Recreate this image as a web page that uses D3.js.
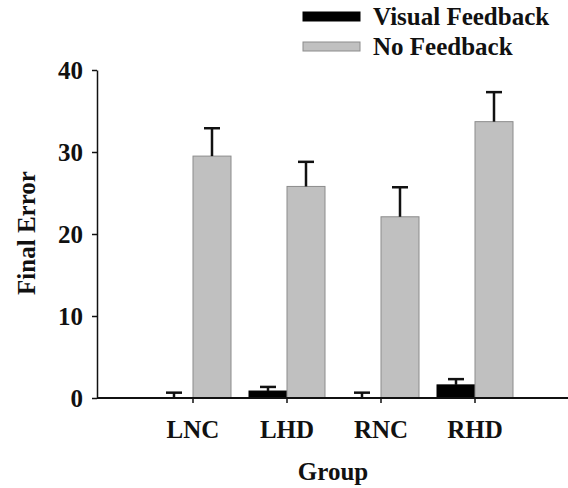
<!DOCTYPE html>
<html>
<head>
<meta charset="utf-8">
<script src="https://cdn.jsdelivr.net/npm/d3@7"></script>
<style>
    body { margin: 0; background: #fff; }
    svg text { font-family: "Liberation Serif", "Times New Roman", serif; font-weight: bold; fill: #111; }
</style>
</head>
<body>
<div id="chart"></div>
<script>
// data
const groups = ["LNC", "LHD", "RNC", "RHD"];
const seriesNames = ["Visual Feedback", "No Feedback"];
const visualFeedback = [0, 0.85, 0, 1.6];
const visualFeedbackErr = [0.65, 0.5, 0.65, 0.7];
const noFeedback = [29.5, 25.8, 22.1, 33.7];
const noFeedbackErr = [3.4, 3.0, 3.6, 3.6];
const yTicks = [0, 10, 20, 30, 40];

const width = 568,
    height = 488;

const svg = d3.select("#chart")
    .append("svg")
    .attr("width", width)
    .attr("height", height);

// scales
const y = d3.scaleLinear()
    .domain([0, 40])
    .range([398, 70]);

const x0 = d3.scaleBand()
    .domain(groups)
    .range([146, 522])
    .paddingInner(0);

const x1 = d3.scaleBand()
    .domain(seriesNames)
    .range([9, x0.bandwidth() - 9]);

const color = d3.scaleOrdinal()
    .domain(seriesNames)
    .range(["#000000", "#c0c0c0"]);

const stroke = d3.scaleOrdinal()
    .domain(seriesNames)
    .range(["#000000", "#8c8c8c"]);

// build rows for the bars
const rows = [];
groups.forEach(function (g, i) {
    rows.push({ group: g, series: seriesNames[0], value: visualFeedback[i], err: visualFeedbackErr[i] });
    rows.push({ group: g, series: seriesNames[1], value: noFeedback[i], err: noFeedbackErr[i] });
});

// bars
svg.append("g")
    .selectAll("rect")
    .data(rows)
    .join("rect")
    .attr("x", d => x0(d.group) + x1(d.series))
    .attr("y", d => y(d.value))
    .attr("width", x1.bandwidth())
    .attr("height", d => y(0) - y(d.value))
    .attr("fill", d => color(d.series))
    .attr("stroke", d => stroke(d.series))
    .attr("stroke-width", 1);

// error bars (upper only)
const err = svg.append("g")
    .selectAll("g")
    .data(rows)
    .join("g")
    .attr("transform", d => `translate(${x0(d.group) + x1(d.series) + x1.bandwidth() / 2},0)`);

err.append("line")
    .attr("y1", d => y(d.value))
    .attr("y2", d => y(d.value + d.err))
    .attr("stroke", "#111")
    .attr("stroke-width", 2.5);

err.append("line")
    .attr("x1", -8)
    .attr("x2", 8)
    .attr("y1", d => y(d.value + d.err))
    .attr("y2", d => y(d.value + d.err))
    .attr("stroke", "#111")
    .attr("stroke-width", 2.5);

// y axis
const yAxis = svg.append("g")
    .attr("transform", "translate(97,0)")
    .call(d3.axisLeft(y).tickValues(yTicks).tickSize(5).tickSizeOuter(0).tickPadding(9));
yAxis.selectAll("text").style("font-size", "25px");
yAxis.selectAll("path, line").attr("stroke", "#111").attr("stroke-width", 1.5);

// x axis
const xAxis = svg.append("g")
    .attr("transform", `translate(0,${y(0)})`)
    .call(d3.axisBottom(x0).tickSize(5).tickPadding(17));
xAxis.select(".domain").remove();
xAxis.selectAll("text").style("font-size", "25px");
xAxis.selectAll("line").attr("stroke", "#111").attr("stroke-width", 1.5);
xAxis.append("line")
    .attr("x1", 97)
    .attr("x2", width)
    .attr("stroke", "#111")
    .attr("stroke-width", 2);

// axis titles
svg.append("text")
    .attr("x", 333)
    .attr("y", 480)
    .attr("text-anchor", "middle")
    .style("font-size", "25px")
    .text("Group");

svg.append("text")
    .attr("transform", "translate(35,233) rotate(-90)")
    .attr("text-anchor", "middle")
    .style("font-size", "25px")
    .text("Final Error");

// legend
const legend = svg.append("g")
    .selectAll("g")
    .data(seriesNames)
    .join("g")
    .attr("transform", (d, i) => `translate(303,${12 + i * 30})`);

legend.append("rect")
    .attr("width", 57)
    .attr("height", 9)
    .attr("fill", d => color(d))
    .attr("stroke", d => stroke(d));

legend.append("text")
    .attr("x", 70)
    .attr("y", 13)
    .style("font-size", "25px")
    .text(d => d);
</script>
</body>
</html>
